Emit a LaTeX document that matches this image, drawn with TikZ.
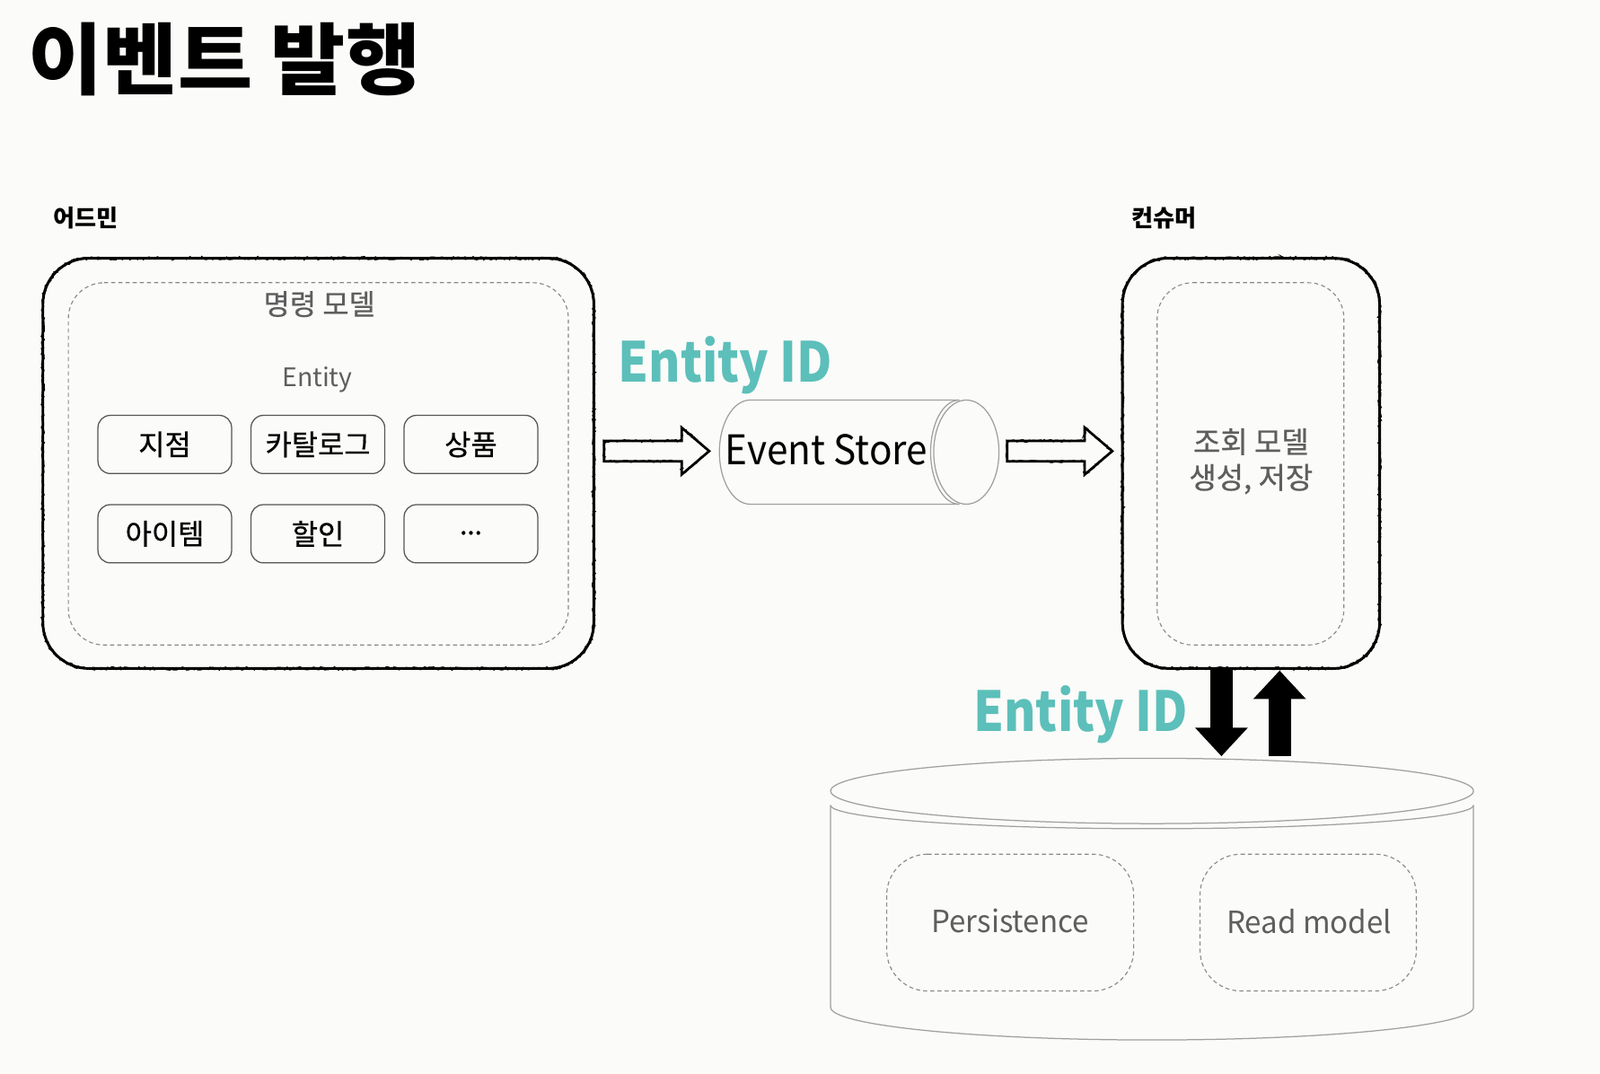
\documentclass[tikz,border=0pt]{standalone}
\usepackage{fontspec}
\setmainfont{Noto Sans CJK KR}
\newfontfamily\medfont[FakeBold=0.6]{Noto Sans CJK KR}
\usetikzlibrary{arrows.meta,decorations.pathmorphing,calc}
\definecolor{teal1}{HTML}{5CBFBA}
\definecolor{txtgray}{HTML}{5E5E5E}
\definecolor{dashgray}{HTML}{8A8A8A}
\definecolor{cylgray}{HTML}{A0A0A0}
\definecolor{boxgray}{HTML}{555555}
\definecolor{bgc}{HTML}{FBFBF9}
\newcommand{\fs}[2]{\fontsize{#1}{#2}\selectfont}
\tikzset{
  fuzz/.style={line width=1.6pt, decorate, decoration={random steps, segment length=2pt, amplitude=1.3pt}},
  dashbox/.style={draw=dashgray, line width=1pt, dash pattern=on 4pt off 3pt},
  entbox/.style={draw=boxgray, line width=1.1pt, rounded corners=12pt, minimum width=131pt, minimum height=57pt, inner sep=0pt, font=\medfont\fs{28}{32}},
  cyl/.style={draw=cylgray, line width=1.1pt},
  bigid/.style={text=teal1, font=\bfseries\fs{54}{60}, inner sep=0pt},
  graytxt/.style={text=txtgray, inner sep=0pt},
  darrow/.style={line width=22pt, -{Triangle[length=28pt,width=50pt]}},
}
\newcommand{\sketchbox}[5]{%
  \draw[line width=2.6pt] (#1+#5,#2) -- (#3-#5,#2) arc[start angle=90,end angle=0,radius=#5pt] -- (#3,#4-#5) arc[start angle=0,end angle=-90,radius=#5pt] -- (#1+#5,#4) arc[start angle=270,end angle=180,radius=#5pt] -- (#1,#2+#5) arc[start angle=180,end angle=90,radius=#5pt] -- cycle;
  \draw[fuzz] (#1+#5,#2) -- (#3-#5,#2) arc[start angle=90,end angle=0,radius=#5pt] -- (#3,#4-#5) arc[start angle=0,end angle=-90,radius=#5pt] -- (#1+#5,#4) arc[start angle=270,end angle=180,radius=#5pt] -- (#1,#2+#5) arc[start angle=180,end angle=90,radius=#5pt] -- cycle;}
\newcommand{\dashrr}[5]{%
  \draw[dashbox] (#1+#5,#2) -- (#3-#5,#2) arc[start angle=90,end angle=0,radius=#5pt] -- (#3,#4-#5) arc[start angle=0,end angle=-90,radius=#5pt] -- (#1+#5,#4) arc[start angle=270,end angle=180,radius=#5pt] -- (#1,#2+#5) arc[start angle=180,end angle=90,radius=#5pt] -- cycle;}
\newcommand{\hollowarrow}[3]{% xstart, xend, ycenter
  \draw[line width=2.4pt, line join=miter] (#1,#3-10) -- (#2-27,#3-10) -- (#2-27,#3-23) -- (#2,#3) -- (#2-27,#3+23) -- (#2-27,#3+10) -- (#1,#3+10) -- cycle;
  \draw[fuzz, line width=1.1pt, decoration={random steps, segment length=2pt, amplitude=1.2pt}] (#1,#3-10) -- (#2-27,#3-10) -- (#2-27,#3-23) -- (#2,#3) -- (#2-27,#3+23) -- (#2-27,#3+10) -- (#1,#3+10) -- cycle;}
\begin{document}
\begin{tikzpicture}[x=1pt,y=-1pt]
\fill[bgc] (0,0) rectangle (1568,1052);
\useasboundingbox (0,0) rectangle (1568,1052);

% title and labels
\node[font=\bfseries\fs{78}{84}, inner sep=0pt] (title) at (220,58) {\scalebox{1.02}[0.98]{이벤트 발행}};
\node[font=\bfseries\fs{23}{26}, inner sep=0pt] (adminlbl) at (84,214) {어드민};
\node[font=\bfseries\fs{23}{26}, inner sep=0pt] (conslbl) at (1141,214) {컨슈머};

% admin box
\node[minimum width=540pt, minimum height=402pt, inner sep=0pt] (admin) at (312,454) {};
\sketchbox{42}{253}{582}{655}{45}
\dashrr{67}{277}{557}{632}{35}
\node[graytxt, font=\medfont\fs{28}{32}] (cmdmodel) at (313,298) {명령 모델};
\node[graytxt, font=\fs{25}{30}] (entlbl) at (311,372) {Entity};
\node[entbox] (e1) at (161.5,435.5) {지점};
\node[entbox] (e2) at (311.5,435.5) {카탈로그};
\node[entbox] (e3) at (461.5,435.5) {상품};
\node[entbox] (e4) at (161.5,523) {아이템};
\node[entbox] (e5) at (311.5,523) {할인};
\node[entbox, font=\medfont\fs{26}{30}] (e6) at (461.5,523) {\raisebox{2pt}{...}};

% event store cylinder
\draw[cyl] (940,392) -- (735,392) arc[start angle=90,end angle=270,x radius=30pt,y radius=51pt] -- (940,494);
\draw[cyl] (940,392) arc[start angle=90,end angle=270,x radius=28pt,y radius=51pt];
\draw[cyl] (947,443) ellipse[x radius=32pt, y radius=51pt];
\node[inner sep=0pt, font=\fs{40}{46}] (es) at (810,441) {\scalebox{0.93}[1]{Event Store}};

\node[bigid] (id1) at (711,358) {\scalebox{0.88}[1]{Entity ID}};

% hollow arrows
\hollowarrow{592}{695}{442}
\hollowarrow{987}{1090}{442}

% consumer box
\node[minimum width=252pt, minimum height=402pt, inner sep=0pt] (consumer) at (1226,454) {};
\sketchbox{1100}{253}{1352}{655}{45}
\dashrr{1134}{277}{1317}{632}{35}
\node[graytxt, font=\medfont\fs{29}{35}, align=center] (readgen) at (1226,452) {조회 모델\\생성, 저장};

% database cylinder
\draw[cyl] (1129,775) ellipse[x radius=315pt, y radius=32pt];
\draw[cyl] (814,789) arc[start angle=180,end angle=360,x radius=315pt,y radius=23pt];
\draw[cyl] (814,789) -- (814,987) arc[start angle=180,end angle=360,x radius=315pt,y radius=32pt] -- (1444,789);
\node[minimum width=630pt, minimum height=276pt, inner sep=0pt] (db) at (1129,881) {};
\dashrr{869}{837}{1111}{971}{40}
\dashrr{1176}{837}{1388}{971}{40}
\node[graytxt, font=\fs{30}{36}] (pers) at (990,902) {\scalebox{0.97}[1]{Persistence}};
\node[graytxt, font=\fs{30}{36}] (readm) at (1283,903) {\scalebox{0.97}[1]{Read model}};

% vertical arrows
\coordinate (dtop) at (1197,656);
\coordinate (dbot) at (1197,741);
\coordinate (utop) at (1254,657);
\coordinate (ubot) at (1254,741);
\draw[darrow] (dtop) -- (dbot);
\draw[darrow] (ubot) -- (utop);
\node[bigid] (id2) at (1059,700) {\scalebox{0.88}[1]{Entity ID}};
\end{tikzpicture}
\end{document}
